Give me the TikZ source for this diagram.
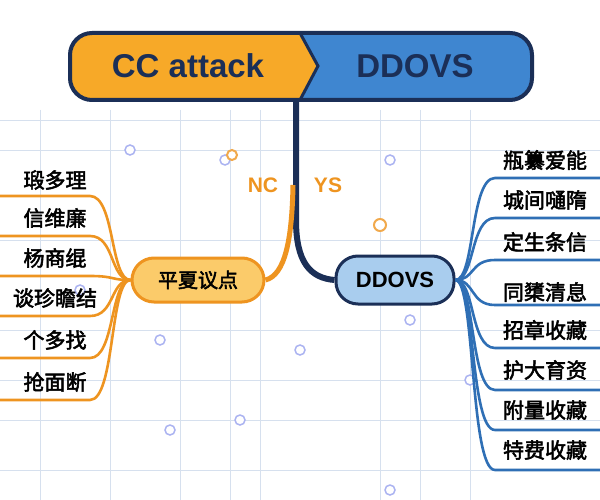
\documentclass[tikz,border=0pt]{standalone}
\usepackage{fontspec}
\setmainfont{Liberation Sans}
\newfontfamily\cjk{Noto Sans CJK SC}[AutoFakeBold=2.5]
\begin{document}
\begin{tikzpicture}[x=1pt,y=-1pt,
  leafL/.style={font=\cjk\bfseries\fontsize{21}{21}\selectfont,anchor=center},
  leafR/.style={font=\cjk\bfseries\fontsize{21}{21}\selectfont,anchor=center},
  oline/.style={draw=orangec,line width=2.6pt},
  bline/.style={draw=bluec,line width=2.6pt},
  grid/.style={draw=gridc,line width=0.8pt},
  dot/.style={draw=gridc!80!blue,line width=1.5pt,fill=white}]
\definecolor{navyc}{HTML}{1B2F57}
\definecolor{orangec}{HTML}{EE9420}
\definecolor{bluec}{HTML}{2F6FB5}
\definecolor{gridc}{HTML}{D6E0EE}
\definecolor{ofill}{HTML}{F7A928}
\definecolor{bfill}{HTML}{3F86D0}
\definecolor{ofl}{HTML}{FBCB6A}
\definecolor{bfl}{HTML}{A9CDEE}
\fill[white] (0,0) rectangle (600,500);
\useasboundingbox (0,0) rectangle (600,500);
% background grid
\foreach \x in {40,110,180,230,260,380,420,470} \draw[grid] (\x,110) -- (\x,500);
\foreach \y in {120,150,240,330,380,420,470} \draw[grid] (0,\y) -- (600,\y);
\foreach \p in {(130,150),(225,160),(390,160),(160,340),(300,350),(410,320),(170,430),(240,420),(390,490),(80,290),(470,380)}
  \draw[dot] \p circle (5);
\draw[orangec!80,line width=2pt,fill=white] (232,155) circle (5);
\draw[orangec!80,line width=2pt,fill=white] (380,225) circle (6);
% banner
\begin{scope}
\clip[rounded corners=22pt] (70,33) rectangle (532,100);
\fill[ofill] (60,20) rectangle (320,110);
\fill[bfill] (300,33) -- (550,33) -- (550,100) -- (300,100) -- (318,66) -- cycle;
\draw[navyc,line width=3pt] (300,33) -- (318,66) -- (300,100);
\end{scope}
\draw[navyc,line width=4pt,rounded corners=22pt] (70,33) rectangle (532,100);
\node[font=\bfseries\fontsize{33}{33}\selectfont,text=navyc] (t1) at (188,66) {CC attack};
\node[font=\bfseries\fontsize{33}{33}\selectfont,text=navyc] (t2) at (415,66) {DDOVS};
\coordinate (top) at (296,100);
% nodes
\node[draw=navyc,line width=3pt,fill=bfl,rounded corners=22pt,minimum width=118pt,minimum height=48pt,font=\bfseries\fontsize{22}{22}\selectfont] (R) at (395,280) {DDOVS};
\node[draw=orangec,line width=3pt,fill=ofl,rounded corners=22pt,minimum width=132pt,minimum height=44pt,font=\cjk\bfseries\fontsize{20}{20}\selectfont] (L) at (198,280) {平夏议点};
% connectors
\draw[navyc,line width=6pt] (top) -- (296,220) .. controls (296,262) and (310,278) .. (R.west);
\draw[orangec,line width=5pt] (293,185) .. controls (292,240) and (285,275) .. (L.east);
\node[font=\bfseries\fontsize{21}{21}\selectfont,text=orangec] (nc) at (263,185) {NC};
\node[font=\bfseries\fontsize{21}{21}\selectfont,text=orangec] (ys) at (328,185) {YS};
% left leaves
\foreach \t/\ty/\ly [count=\i] in {瑖多理/180/196,信维廉/218/236,杨商绲/258/276,谈珍瞻结/298/316,个多找/340/358,抢面断/382/400}{
  \node[leafL] (l\i) at (55,\ty) {\t};
  \coordinate (le\i) at (0,\ly);
  \draw[oline] (le\i) -- (90,\ly) .. controls (115,\ly) and (110,280) .. (L.west);
}
% right leaves
\foreach \t/\ty/\ly [count=\i] in {瓶纂爱能/160/178,城间嗵隋/200/218,定生条信/242/260,同橥清息/292/305,招章收藏/330/348,护大育资/370/390,附量收藏/410/430,特费收藏/450/470}{
  \node[leafR] (r\i) at (545,\ty) {\t};
  \coordinate (re\i) at (600,\ly);
  \draw[bline] (R.east) .. controls (475,280) and (470,\ly) .. (495,\ly) -- (re\i);
}
\end{tikzpicture}
\end{document}
